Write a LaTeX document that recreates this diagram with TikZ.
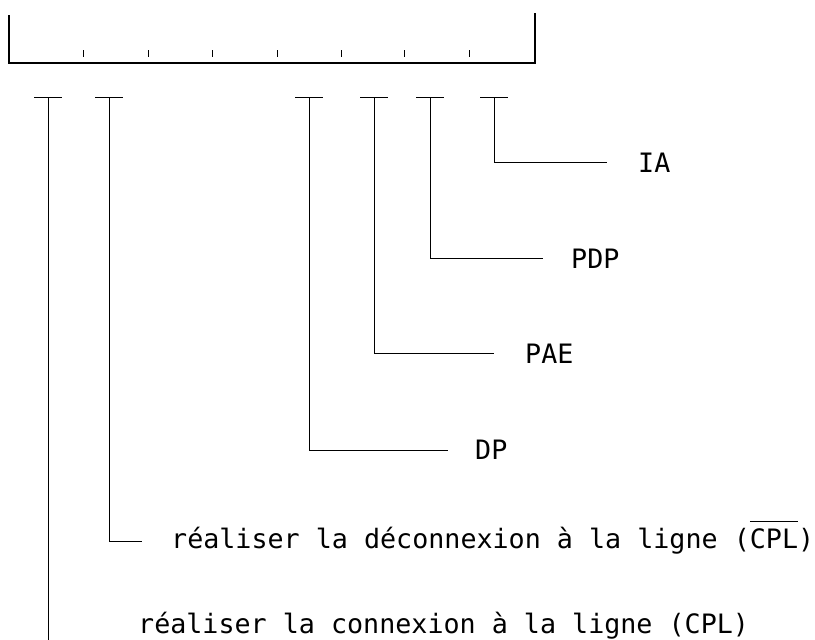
\documentclass[tikz,border=0pt]{standalone}
\usepackage{fontspec}
\setmonofont{DejaVu Sans Mono}
\newcommand{\olbar}[1]{\setbox0\hbox{#1}\rlap{\rule[26pt]{\wd0}{0.9pt}}\box0}
\begin{document}
\begin{tikzpicture}[x=1pt,y=-1pt,
  wire/.style={line width=1pt},
  frame/.style={line width=1.3pt},
  lbl/.style={anchor=base west,inner sep=0pt,font=\fontsize{26.7}{32}\selectfont\ttfamily}]
\useasboundingbox (0,0) rectangle (815,640);
% bracket (scale)
\coordinate (bl) at (9,15);
\coordinate (bl0) at (9,63);
\coordinate (br0) at (535,63);
\coordinate (br) at (535,13);
\draw[frame] (bl) -- (bl0) -- (br0) -- (br);
\foreach \x in {83,148,212,277,341,404,469} \draw[wire] (\x,50) -- (\x,57);
% T bars
\foreach \n/\x in {a/48,b/109,c/309,d/374,e/430,f/494}{
  \coordinate (t\n) at (\x,97);
  \draw[wire] ([xshift=-14pt]t\n) -- ([xshift=14pt]t\n);
}
% labels
\node[lbl] (IA)  at (638,172) {IA};
\node[lbl] (PDP) at (571,268) {PDP};
\node[lbl] (PAE) at (525,363) {PAE};
\node[lbl] (DP)  at (475,459) {DP};
\node[lbl] (dec) at (171,548) {réaliser la déconnexion à la ligne (\olbar{CPL})};
\node[lbl] (con) at (138,633) {réaliser la connexion à la ligne (CPL)};
% line ends
\coordinate (ea) at (48,640);
\coordinate (eb) at (142,541);
\coordinate (ec) at (448,450);
\coordinate (ed) at (494,353);
\coordinate (ee) at (543,258);
\coordinate (ef) at (607,162);
\draw[wire] (ta) -- (ea);
\draw[wire] (tb) |- (eb);
\draw[wire] (tc) |- (ec);
\draw[wire] (td) |- (ed);
\draw[wire] (te) |- (ee);
\draw[wire] (tf) |- (ef);
\end{tikzpicture}
\end{document}
